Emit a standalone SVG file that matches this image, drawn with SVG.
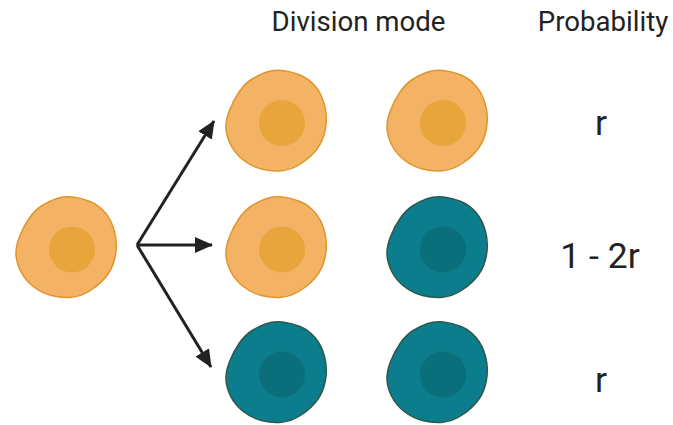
<svg xmlns="http://www.w3.org/2000/svg" width="673" height="425" viewBox="0 0 673 425">
  <defs>
    <path id="cell-outline" d="M6,-50 Q-3,-51 -10.5,-48.25 Q-18,-45.5 -24.75,-41.25 Q-31.5,-37 -37.25,-28.75 Q-43,-20.5 -47,-10.25 Q-51,0 -50.5,8 Q-50,16 -45.75,24.5 Q-41.5,33 -33.25,39.5 Q-25,46 -15,48.5 Q-5,51 5,50.25 Q15,49.5 25,42.75 Q35,36 41,27.75 Q47,19.5 49,7.75 Q51,-4 48,-15.5 Q45,-27 38.5,-34.5 Q32,-42 23.5,-45.5 Q15,-49 6,-50 Z"/>
    <g id="cell-orange">
      <use href="#cell-outline" class="orange-body"/>
      <circle cx="5.5" cy="2.5" r="23" class="orange-nucleus"/>
    </g>
    <g id="cell-teal">
      <use href="#cell-outline" class="teal-body"/>
      <circle cx="5.5" cy="2.5" r="23" class="teal-nucleus"/>
    </g>
    <marker id="arrowhead" viewBox="0 0 18 16" refX="17" refY="8" markerWidth="18" markerHeight="16" markerUnits="userSpaceOnUse" orient="auto">
      <path d="M0,0 L18,8 L0,16 Z" fill="#222222"/>
    </marker>
  </defs>
  <style>
    .orange-body { fill: #F4B265; stroke: #E0952A; stroke-width: 1.5; }
    .orange-nucleus { fill: #E8A53B; }
    .teal-body { fill: #0B7D8C; stroke: #2F584C; stroke-width: 1.5; }
    .teal-nucleus { fill: #0A6E7B; }
    .arrow { stroke: #222222; stroke-width: 3; fill: none; marker-end: url(#arrowhead); }
    .label { font-family: Roboto, "Liberation Sans", sans-serif; fill: #222222; text-anchor: middle; }
    .header { font-size: 27.6px; }
    .prob { font-size: 35.5px; }
  </style>

  <rect width="673" height="425" fill="#ffffff"/>

  <!-- column headers -->
  <g id="headers">
    <text class="label header" x="358.5" y="31">Division mode</text>
    <text class="label header" x="603" y="31">Probability</text>
  </g>

  <!-- parent cell -->
  <g id="parent-cell">
    <use href="#cell-orange" transform="translate(66.5,247)"/>
  </g>

  <!-- daughter pairs -->
  <g id="pair-symmetric-orange">
    <use href="#cell-orange" transform="translate(276.5,120.5)"/>
    <use href="#cell-orange" transform="translate(437.5,120.5)"/>
  </g>
  <g id="pair-asymmetric">
    <use href="#cell-orange" transform="translate(276.5,247)"/>
    <use href="#cell-teal" transform="translate(437.5,247)"/>
  </g>
  <g id="pair-symmetric-teal">
    <use href="#cell-teal" transform="translate(276.5,372)"/>
    <use href="#cell-teal" transform="translate(437.5,372)"/>
  </g>

  <!-- division arrows -->
  <g id="connectors">
    <line class="arrow" x1="137" y1="245" x2="214" y2="121"/>
    <line class="arrow" x1="137" y1="245" x2="212" y2="245"/>
    <line class="arrow" x1="137" y1="245" x2="211" y2="367"/>
  </g>

  <!-- probabilities -->
  <g id="probabilities">
    <text class="label prob" x="601" y="135">r</text>
    <text class="label prob" x="600" y="268">1 - 2r</text>
    <text class="label prob" x="601" y="392">r</text>
  </g>
</svg>
